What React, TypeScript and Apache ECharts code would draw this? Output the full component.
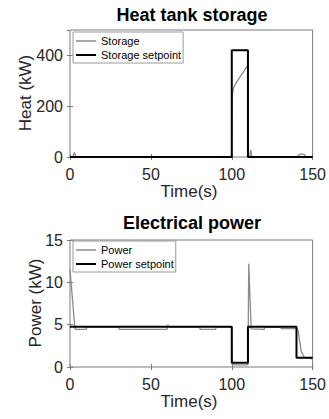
import React, { useEffect, useRef } from "react";
import * as echarts from "echarts";

// ---- Data ----
const timeTicks = [0, 50, 100, 150];

// Heat tank storage
const storageTime = [0, 1.8, 2.7, 3.8, 100, 100.3, 101, 102.5, 110, 110.2, 111, 111.7, 112.4, 140.5, 141.8, 143.2, 144.8, 145.8, 150];
const storageValue = [0, 0, 18, 0, 0, 245, 270, 290, 362, 0, 0, 27, 0, 0, 10, 12, 10, 0, 0];
const storageSetTime = [0, 100, 100, 110, 110, 150];
const storageSetValue = [0, 0, 420, 420, 0, 0];

// Electrical power
const powerTime = [0, 3, 3.5, 10, 10.5, 30, 30.5, 60, 60.5, 61, 80, 80.5, 90, 90.5, 100, 100.3, 110, 110.5, 112, 120, 120.5, 130, 130.5, 140, 141, 142, 143, 145, 150];
const powerValue = [11.5, 4.6, 4.45, 4.45, 4.75, 4.75, 4.45, 4.45, 5.0, 4.75, 4.75, 4.45, 4.45, 4.75, 4.75, 0.25, 0.25, 12.2, 4.5, 4.45, 4.7, 4.7, 4.55, 4.55, 4.3, 3.0, 1.8, 1.1, 0.95];
const powerSetTime = [0, 100, 100, 110, 110, 140, 140, 150];
const powerSetValue = [4.75, 4.75, 0.5, 0.5, 4.75, 4.75, 1.1, 1.1];

const FONT = "'Liberation Sans', Arial, Helvetica, sans-serif";
const TXT = "#262626";
const AXC = "#7a7a7a";
const GRAY = "#8a8a8a";

const zip = (xs: number[], ys: number[]) => xs.map((x, i) => [x, ys[i]]);

export default function App() {
  const ref = useRef<HTMLDivElement>(null);
  useEffect(() => {
    if (!ref.current) return;
    const chart = echarts.init(ref.current, undefined, { renderer: "svg" });
    const grids = [
      { left: 70, top: 30, width: 243, height: 127 },
      { left: 70, top: 240, width: 243, height: 127 },
    ];
    const xBase = (gi: number, pos: "bottom" | "top", labels: boolean) => ({
      type: "value",
      gridIndex: gi,
      position: pos,
      min: timeTicks[0],
      max: timeTicks[timeTicks.length - 1],
      interval: timeTicks[1] - timeTicks[0],
      axisLine: { show: false },
      axisTick: { show: true, inside: true, length: 3, lineStyle: { color: AXC } },
      splitLine: { show: false },
      axisLabel: labels
        ? { show: true, margin: 9, fontSize: 16, fontFamily: FONT, color: TXT }
        : { show: false },
    });
    const yBase = (gi: number, pos: "left" | "right", labels: boolean, max: number, interval: number, showMax: boolean) => ({
      type: "value",
      gridIndex: gi,
      position: pos,
      min: 0,
      max,
      interval,
      axisLine: { show: false },
      axisTick: { show: true, inside: true, length: 3, lineStyle: { color: AXC } },
      splitLine: { show: false },
      axisLabel: labels
        ? { show: true, margin: 7, fontSize: 16, fontFamily: FONT, color: TXT, showMaxLabel: showMax }
        : { show: false },
    });
    const legendBase = {
      orient: "vertical",
      left: 73,
      icon: "rect",
      itemWidth: 20,
      itemHeight: 2,
      itemGap: 2,
      padding: [3, 2, 2, 3],
      borderColor: "#9a9a9a",
      borderWidth: 1,
      backgroundColor: "#ffffff",
      textStyle: { fontSize: 11, lineHeight: 12, fontFamily: FONT, color: "#000" },
    };
    const legendItems = (a: string, b: string) => [
      { name: a, itemStyle: { color: "#a8a8a8" } },
      { name: b, itemStyle: { color: "#000" } },
    ];
    chart.setOption({
      animation: false,
      grid: grids.map((g) => ({ ...g, show: true, borderColor: AXC, borderWidth: 1, backgroundColor: "transparent" })),
      xAxis: [xBase(0, "bottom", true), xBase(0, "top", false), xBase(1, "bottom", true), xBase(1, "top", false)],
      yAxis: [
        yBase(0, "left", true, 500, 200, false),
        yBase(0, "right", false, 500, 200, false),
        yBase(1, "left", true, 15, 5, true),
        yBase(1, "right", false, 15, 5, true),
      ],
      legend: [
        { ...legendBase, top: 32, data: legendItems("Storage", "Storage setpoint") },
        { ...legendBase, top: 241, data: legendItems("Power", "Power setpoint") },
      ],
      series: [
        {
          name: "Storage",
          type: "line",
          xAxisIndex: 0,
          yAxisIndex: 0,
          data: zip(storageTime, storageValue),
          symbol: "none",
          lineStyle: { color: GRAY, width: 1.3 },
          itemStyle: { color: GRAY },
        },
        {
          name: "Storage setpoint",
          type: "line",
          xAxisIndex: 0,
          yAxisIndex: 0,
          data: zip(storageSetTime, storageSetValue),
          symbol: "none",
          lineStyle: { color: "#000", width: 2 },
          itemStyle: { color: "#000" },
        },
        {
          name: "Power",
          type: "line",
          xAxisIndex: 2,
          yAxisIndex: 2,
          data: zip(powerTime, powerValue),
          symbol: "none",
          lineStyle: { color: GRAY, width: 1.3 },
          itemStyle: { color: GRAY },
        },
        {
          name: "Power setpoint",
          type: "line",
          xAxisIndex: 2,
          yAxisIndex: 2,
          data: zip(powerSetTime, powerSetValue),
          symbol: "none",
          lineStyle: { color: "#000", width: 2 },
          itemStyle: { color: "#000" },
        },
      ],
      graphic: [
        {
          type: "text",
          x: 192,
          y: 15,
          style: { text: "Heat tank storage", font: `bold 18px ${FONT}`, fill: "#000", align: "center", verticalAlign: "middle" },
        },
        {
          type: "text",
          x: 192,
          y: 223,
          style: { text: "Electrical power", font: `bold 18px ${FONT}`, fill: "#000", align: "center", verticalAlign: "middle" },
        },
        {
          type: "text",
          x: 25,
          y: 93,
          rotation: Math.PI / 2,
          style: { text: "Heat (kW)", font: `17px ${FONT}`, fill: TXT, align: "center", verticalAlign: "middle" },
        },
        {
          type: "text",
          x: 35,
          y: 303,
          rotation: Math.PI / 2,
          style: { text: "Power (kW)", font: `17px ${FONT}`, fill: TXT, align: "center", verticalAlign: "middle" },
        },
        {
          type: "text",
          x: 189,
          y: 191,
          style: { text: "Time(s)", font: `17px ${FONT}`, fill: TXT, align: "center", verticalAlign: "middle" },
        },
        {
          type: "text",
          x: 189,
          y: 401,
          style: { text: "Time(s)", font: `17px ${FONT}`, fill: TXT, align: "center", verticalAlign: "middle" },
        },
      ],
    });
    return () => chart.dispose();
  }, []);
  return <div ref={ref} style={{ position: "absolute", left: 0, top: 0, width: 329, height: 419 }} />;
}
